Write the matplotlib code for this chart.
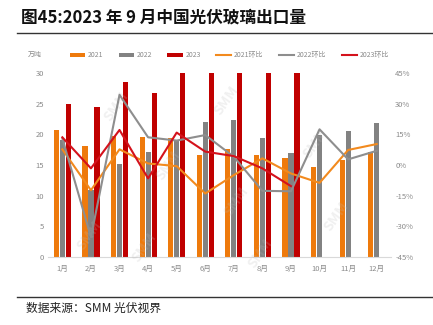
import matplotlib
matplotlib.use('Agg')
import matplotlib.pyplot as plt
import numpy as np

plt.rcParams['font.family'] = ['Noto Sans CJK SC', 'DejaVu Sans']

months = ['1月', '2月', '3月', '4月', '5月', '6月', '7月', '8月', '9月', '10月', '11月', '12月']
exp_2021 = [20.8, 18.1, 19.8, 19.6, 19.5, 16.7, 17.7, 16.6, 16.1, 14.7, 15.8, 17.2]
exp_2022 = [19.1, 10.9, 15.1, 17.2, 19.1, 22.0, 22.4, 19.5, 17.0, 19.9, 20.5, 21.9]
exp_2023 = [24.9, 24.4, 28.6, 26.7, 31.0, 31.5, 32.0, 31.5, 31.0]
mom_2021 = [7.7, -12.3, 7.7, 0.8, -0.5, -13.9, -4.9, 3.3, -4.1, -8.7, 7.4, 10.3]
mom_2022 = [13.1, -35.2, 34.4, 13.6, 12.0, 14.7, 4.1, -12.6, -12.8, 17.5, 2.8, 7.0]
mom_2023 = [13.6, -1.6, 17.2, -6.5, 15.9, 6.6, 4.4, -1.6, -10.3]

c21, c22, c23 = '#EE7A0C', '#828282', '#C00000'
l21, l22, l23 = '#F28A1E', '#8E8E8E', '#D4121C'
tc = '#8A8A8A'

fig = plt.figure(figsize=(4.33, 3.25), dpi=100)
ax = fig.add_axes([0.111, 0.209, 0.792, 0.566])
ax2 = ax.twinx()

x = np.arange(len(months))
w = 0.18
ax.bar(x - 0.21, exp_2021, w, color=c21, label='2021')
ax.bar(x, exp_2022, w, color=c22, label='2022')
ax.bar(x[:len(exp_2023)] + 0.21, exp_2023, w, color=c23, label='2023')

ax2.plot(x, mom_2021, color=l21, lw=1.5, label='2021环比')
ax2.plot(x, mom_2022, color=l22, lw=1.5, label='2022环比')
ax2.plot(x[:len(mom_2023)], mom_2023, color=l23, lw=1.5, label='2023环比')

ax.set_ylim(0, 30)
ax.set_yticks(range(0, 31, 5))
ax2.set_ylim(-45, 45)
ax2.set_yticks(range(-45, 46, 15))
ax2.set_yticklabels([f'{v}%' for v in range(-45, 46, 15)])
ax.set_xlim(-0.5, 11.5)
ax.set_xticks(x)
ax.set_xticklabels(months)

for a in (ax, ax2):
    for s in ['top', 'left', 'right', 'bottom']:
        a.spines[s].set_visible(False)
    a.tick_params(length=0, labelsize=5.5, colors=tc, pad=3)
ax.spines['bottom'].set_visible(True)
ax.spines['bottom'].set_color('#D9D9D9')
ax.tick_params(axis='x', pad=6)

# SMM watermarks
for wx, wy in [(0.2, 0.82), (0.52, 0.85), (0.78, 0.62), (0.35, 0.5), (0.55, 0.3),
               (0.12, 0.12), (0.84, 0.22), (0.62, 0.02), (0.28, 0.05)]:
    ax.text(wx, wy, 'SMM', transform=ax.transAxes, rotation=55, fontsize=10,
            fontweight='bold', color='#BBBBBB', alpha=0.22, ha='center', va='center',
            zorder=5)

h1, lab1 = ax.get_legend_handles_labels()
h2, lab2 = ax2.get_legend_handles_labels()
leg = fig.legend(h1 + h2, lab1 + lab2, loc='center', bbox_to_anchor=(0.53, 0.83),
                 ncol=6, frameon=False, fontsize=5, handlelength=2.2, handleheight=0.6,
                 columnspacing=2.2, handletextpad=0.4)
for t in leg.get_texts():
    t.set_color(tc)
fig.text(0.065, 0.83, '万吨', fontsize=5, color=tc, va='center')

fig.text(0.048, 0.945, '图45:2023 年 9 月中国光伏玻璃出口量', fontsize=12,
         fontweight='bold', va='center', color='#111111')
fig.add_artist(plt.Line2D([0.04, 1.0], [0.9, 0.9], color='#333333', lw=1.0))
fig.add_artist(plt.Line2D([0.04, 1.0], [0.086, 0.086], color='#333333', lw=1.0))
fig.text(0.06, 0.05, '数据来源：SMM 光伏视界', fontsize=8.5, va='center', color='#222222')

fig.savefig('out.png', dpi=100)
